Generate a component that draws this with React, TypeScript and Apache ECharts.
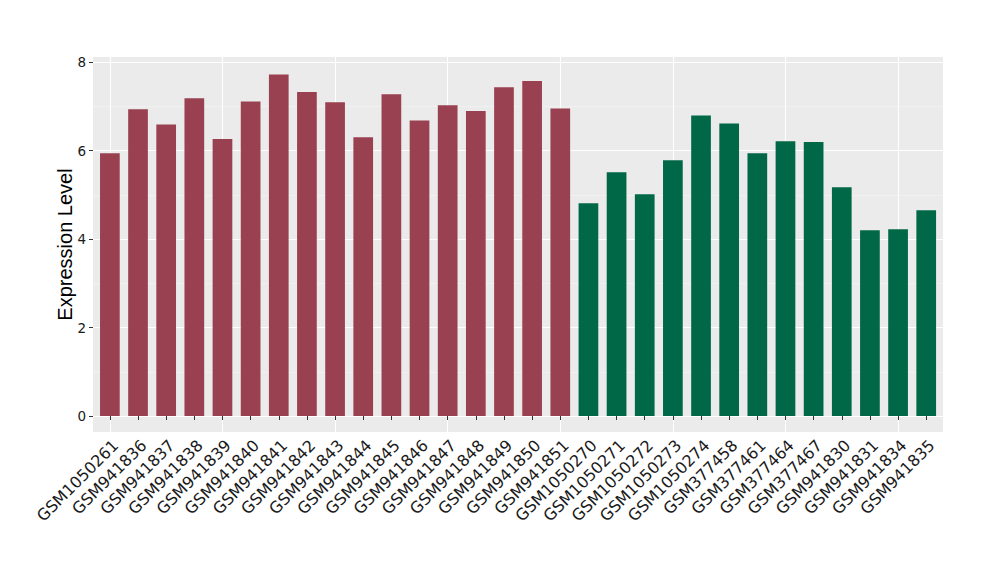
import React, { useEffect, useRef } from "react";
import * as echarts from "echarts";

const categories = [
  "GSM1050261", "GSM941836", "GSM941837", "GSM941838", "GSM941839", "GSM941840",
  "GSM941841", "GSM941842", "GSM941843", "GSM941844", "GSM941845", "GSM941846",
  "GSM941847", "GSM941848", "GSM941849", "GSM941850", "GSM941851", "GSM1050270",
  "GSM1050271", "GSM1050272", "GSM1050273", "GSM1050274", "GSM377458", "GSM377461",
  "GSM377464", "GSM377467", "GSM941830", "GSM941831", "GSM941834", "GSM941835",
];
const values = [
  5.94, 6.93, 6.59, 7.18, 6.26, 7.11, 7.72, 7.32, 7.09, 6.30, 7.27, 6.68,
  7.02, 6.89, 7.43, 7.57, 6.95, 4.81, 5.51, 5.01, 5.78, 6.79, 6.61, 5.94,
  6.21, 6.19, 5.17, 4.20, 4.22, 4.65,
];
const groups = [
  "a", "a", "a", "a", "a", "a", "a", "a", "a", "a", "a", "a", "a", "a", "a", "a", "a",
  "b", "b", "b", "b", "b", "b", "b", "b", "b", "b", "b", "b", "b",
];
const groupColors: Record<string, string> = { a: "#9A4151", b: "#006846" };
const yTicks = [0, 2, 4, 6, 8];
const yTitle = "Expression Level";

export default function App() {
  const ref = useRef<HTMLDivElement>(null);
  useEffect(() => {
    if (!ref.current) return;
    const chart = echarts.init(ref.current, null, { renderer: "svg" });
    const tickFont = "DejaVu Sans, sans-serif";
    const titleFont = "Liberation Sans, Arial, sans-serif";
    chart.setOption({
      animation: false,
      backgroundColor: "#ffffff",
      textStyle: { fontFamily: tickFont },
      graphic: {
        elements: [
          {
            type: "rect",
            z: -100,
            silent: true,
            shape: { x: 93, y: 57, width: 850, height: 375 },
            style: { fill: "#EBEBEB" },
          },
          {
            type: "text",
            x: 65,
            y: 244.5,
            rotation: Math.PI / 2,
            silent: true,
            style: {
              text: yTitle,
              fill: "#000000",
              fontSize: 20,
              fontFamily: titleFont,
              align: "center",
              verticalAlign: "middle",
            },
          },
        ],
      },
      grid: [
        { left: 93, right: 57, top: 62, bottom: 164, containLabel: false },
        { left: 109.9, right: 73.8, top: 57, bottom: 148, containLabel: false },
        { left: 95.8, right: 59.7, top: 62, bottom: 164, containLabel: false },
      ],
      xAxis: [
        {
          gridIndex: 0,
          type: "value",
          show: false,
          min: 0,
          max: 1,
        },
        {
          gridIndex: 1,
          type: "category",
          data: categories,
          boundaryGap: false,
          axisLine: { show: false },
          axisTick: { show: false },
          axisLabel: { show: false },
          splitLine: { show: true, lineStyle: { color: "#ffffff", width: 1.1 } },
        },
        {
          gridIndex: 2,
          type: "category",
          data: categories,
          offset: 16,
          axisLine: { show: false },
          axisTick: {
            show: true,
            alignWithLabel: true,
            length: 4,
            lineStyle: { color: "#333333", width: 1 },
          },
          axisLabel: {
            interval: 0,
            rotate: 45,
            margin: 5,
            fontSize: 16,
            color: "#1A1A1A",
            fontFamily: tickFont,
            verticalAlign: "top",
          },
          splitLine: { show: false },
        },
      ],
      yAxis: [
        {
          gridIndex: 0,
          type: "value",
          min: 0,
          max: 8,
          interval: 2,
          axisLine: { show: false },
          axisTick: { show: true, length: 4, lineStyle: { color: "#333333" } },
          axisLabel: {
            margin: 7,
            fontSize: 13.5,
            color: "#1A1A1A",
            fontFamily: tickFont,
            formatter: (v: number) => (yTicks.includes(v) ? String(v) : ""),
          },
          splitLine: { show: true, lineStyle: { color: "#ffffff", width: 1.1 } },
          minorTick: { show: false, splitNumber: 2 },
          minorSplitLine: { show: true, lineStyle: { color: "#F5F5F5", width: 0.6 } },
        },
        {
          gridIndex: 1,
          type: "value",
          show: false,
          min: 0,
          max: 1,
        },
        {
          gridIndex: 2,
          type: "value",
          show: false,
          min: 0,
          max: 8,
          splitLine: { show: false },
        },
      ],
      series: [
        {
          type: "bar",
          xAxisIndex: 2,
          yAxisIndex: 2,
          barWidth: "70%",
          data: values.map((v, i) => ({
            value: v,
            itemStyle: { color: groupColors[groups[i]] },
          })),
        },
      ],
    });
    return () => chart.dispose();
  }, []);
  return <div ref={ref} style={{ width: 1000, height: 580, margin: -8 }} />;
}
